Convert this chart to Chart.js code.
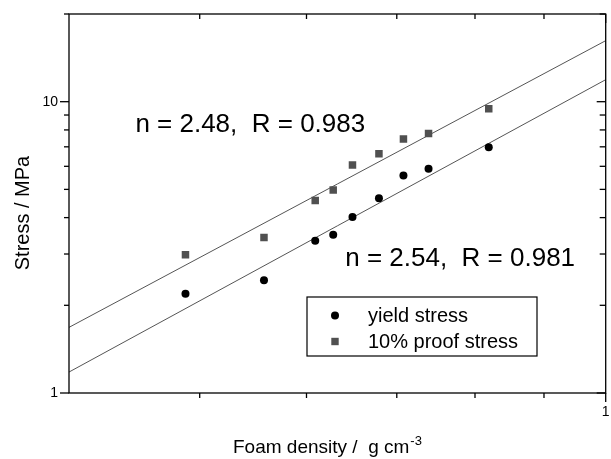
<!DOCTYPE html>
<html><head><meta charset="utf-8">
<script src="https://cdn.jsdelivr.net/npm/chart.js@4/dist/chart.umd.min.js"></script>
<style>html,body{margin:0;padding:0;background:#fff;overflow:hidden}</style>
</head><body>
<canvas id="c" width="611" height="459" style="width:611px;height:459px;display:block"></canvas>
<script>
// ---- data ----
const foamDensity   = [0.488, 0.558, 0.609, 0.628, 0.649, 0.679, 0.708, 0.739, 0.819];
const yieldStress   = [2.19, 2.44, 3.33, 3.49, 4.02, 4.66, 5.58, 5.89, 6.97];
const proofStress   = [2.98, 3.42, 4.58, 4.98, 6.06, 6.63, 7.45, 7.78, 9.46];
const fitDensity    = [0.4, 1];
const fitYield      = [1.18, 11.9];
const fitProof      = [1.68, 16.2];
const seriesLabels  = ['yield stress', '10% proof stress'];
const fitLabels     = ['n = 2.54,  R = 0.981', 'n = 2.48,  R = 0.983'];
const xMinorTicks   = [0.5, 0.6, 0.7, 0.8, 0.9];
const xMajorTicks   = [1];
const xTickLabels   = ['1'];
const yMinorTicks   = [2, 3, 4, 5, 6, 7, 8, 9, 20];
const yMajorTicks   = [1, 10];
const yTickLabels   = ['1', '10'];
const xTitle        = 'Foam density /  g cm';
const xTitleSup     = '-3';
const yTitle        = 'Stress / MPa';

const FONT = '"Liberation Sans", Arial, sans-serif';
const pts = (xs, ys) => xs.map((x, i) => ({x: x, y: ys[i]}));

// annotation anchors (data units)
const fitLabelPos = [{x: 0.641, y: 2.72}, {x: 0.448, y: 7.85}];

const decor = {
  id: 'decor',
  afterDraw(chart) {
    const ctx = chart.ctx, ca = chart.chartArea;
    const xs = chart.scales.x, ys = chart.scales.y;
    ctx.save();
    ctx.strokeStyle = '#000';
    ctx.lineWidth = 1.3;
    ctx.strokeRect(ca.left, ca.top, ca.right - ca.left, ca.bottom - ca.top);
    const line = (a, b, c, d) => { ctx.beginPath(); ctx.moveTo(a, b); ctx.lineTo(c, d); ctx.stroke(); };
    xMinorTicks.forEach(v => { const p = xs.getPixelForValue(v); line(p, ca.bottom, p, ca.bottom + 5); line(p, ca.top, p, ca.top + 5); });
    xMajorTicks.forEach(v => { const p = xs.getPixelForValue(v); line(p, ca.bottom, p, ca.bottom + 9); line(p, ca.top, p, ca.top + 9); });
    yMinorTicks.forEach(v => { const p = ys.getPixelForValue(v); line(ca.left - 5, p, ca.left, p); line(ca.right - 6, p, ca.right, p); });
    yMajorTicks.forEach(v => { const p = ys.getPixelForValue(v); line(ca.left - 9, p, ca.left, p); line(ca.right - 9, p, ca.right, p); });

    ctx.fillStyle = '#000';
    ctx.font = '14px ' + FONT;
    ctx.textAlign = 'right'; ctx.textBaseline = 'middle';
    yMajorTicks.forEach((v, i) => ctx.fillText(yTickLabels[i], ca.left - 11, ys.getPixelForValue(v)));
    ctx.textAlign = 'center'; ctx.textBaseline = 'top';
    xMajorTicks.forEach((v, i) => ctx.fillText(xTickLabels[i], xs.getPixelForValue(v), ca.bottom + 12));

    // axis titles
    ctx.font = '19px ' + FONT;
    ctx.textAlign = 'left'; ctx.textBaseline = 'alphabetic';
    const tx = 233, ty = 453;
    ctx.fillText(xTitle, tx, ty);
    const w = ctx.measureText(xTitle).width;
    ctx.font = '13px ' + FONT;
    ctx.fillText(xTitleSup, tx + w + 1, ty - 8);
    ctx.save();
    ctx.translate(23, 213);
    ctx.rotate(-Math.PI / 2);
    ctx.font = '20px ' + FONT;
    ctx.textAlign = 'center'; ctx.textBaseline = 'middle';
    ctx.fillText(yTitle, 0, 0);
    ctx.restore();

    // fit annotations
    ctx.font = '26px ' + FONT;
    ctx.textAlign = 'left'; ctx.textBaseline = 'alphabetic';
    fitLabelPos.forEach((p, i) => ctx.fillText(fitLabels[i], xs.getPixelForValue(p.x), ys.getPixelForValue(p.y)));

    // legend box
    const lx = 307, ly = 297, lw = 230, lh = 59;
    ctx.fillStyle = '#fff';
    ctx.fillRect(lx, ly, lw, lh);
    ctx.lineWidth = 1.2; ctx.strokeStyle = '#000';
    ctx.strokeRect(lx, ly, lw, lh);
    ctx.font = '20px ' + FONT;
    ctx.textBaseline = 'middle';
    const ds = chart.data.datasets;
    [0, 1].forEach(i => {
      const yy = ly + 18.5 + i * 26;
      ctx.fillStyle = ds[i].backgroundColor;
      if (ds[i].pointStyle === 'circle') { ctx.beginPath(); ctx.arc(lx + 28, yy, 4, 0, Math.PI * 2); ctx.fill(); }
      else { ctx.fillRect(lx + 28 - 3.7, yy - 3.7, 7.4, 7.4); }
      ctx.fillStyle = '#000';
      ctx.fillText(ds[i].label, lx + 61, yy + 1);
    });
    ctx.restore();
  }
};

new Chart(document.getElementById('c'), {
  type: 'scatter',
  data: {
    datasets: [
      { label: seriesLabels[0], data: pts(foamDensity, yieldStress), pointStyle: 'circle', pointRadius: 4, pointHoverRadius: 4,
        backgroundColor: '#000', borderColor: '#000', borderWidth: 0, order: 1 },
      { label: seriesLabels[1], data: pts(foamDensity, proofStress), pointStyle: 'rect', pointRadius: 5.3, pointHoverRadius: 5.3,
        backgroundColor: '#505050', borderColor: '#505050', borderWidth: 0, order: 2 },
      { label: 'fit yield', data: pts(fitDensity, fitYield), showLine: true, pointRadius: 0, borderColor: '#555', borderWidth: 1, order: 3 },
      { label: 'fit proof', data: pts(fitDensity, fitProof), showLine: true, pointRadius: 0, borderColor: '#555', borderWidth: 1, order: 4 }
    ]
  },
  options: {
    responsive: false,
    animation: false,
    devicePixelRatio: 1,
    layout: { padding: { top: 14, right: 1, left: 0, bottom: 0 } },
    plugins: { legend: { display: false }, tooltip: { enabled: false } },
    scales: {
      x: { type: 'logarithmic', min: 0.4, max: 1, ticks: { display: false }, grid: { display: false, drawTicks: false }, border: { display: false },
           afterFit(s) { s.height = 66; } },
      y: { type: 'logarithmic', min: 1, max: 20, ticks: { display: false }, grid: { display: false, drawTicks: false }, border: { display: false },
           afterFit(s) { s.width = 69; } }
    }
  },
  plugins: [decor]
});
</script>
</body></html>
